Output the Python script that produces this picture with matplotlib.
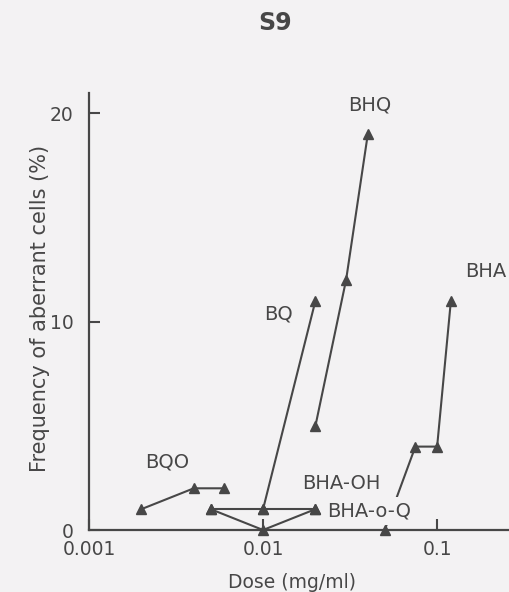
import matplotlib
matplotlib.use("Agg")
import matplotlib.pyplot as plt

# Dose (mg/ml) and frequency of aberrant cells (%) for each compound
bqo_dose = [0.002, 0.004, 0.006]
bqo_freq = [1, 2, 2]

bq_dose = [0.01, 0.02]
bq_freq = [1, 11]

bhq_dose = [0.02, 0.03, 0.04]
bhq_freq = [5, 12, 19]

bha_oh_dose = [0.005, 0.01, 0.02]
bha_oh_freq = [1, 1, 1]

bha_oq_dose = [0.005, 0.01, 0.02]
bha_oq_freq = [1, 0, 1]

bha_dose = [0.05, 0.075, 0.1, 0.12]
bha_freq = [0, 4, 4, 11]

x_ticks = [0.001, 0.01, 0.1]
x_tick_labels = ["0.001", "0.01", "0.1"]
y_ticks = [0, 10, 20]

bg = "#f3f2f3"
ink = "#474747"

fig = plt.figure(figsize=(5.1, 5.92), dpi=100, facecolor=bg)
ax = fig.add_axes([89 / 510, 62 / 592, 451 / 510, 437 / 592])
ax.set_facecolor(bg)

style = dict(color=ink, lw=1.5, marker="^", markersize=7, clip_on=False, zorder=3)
for d, f in [(bqo_dose, bqo_freq), (bq_dose, bq_freq), (bhq_dose, bhq_freq),
             (bha_oh_dose, bha_oh_freq), (bha_oq_dose, bha_oq_freq),
             (bha_dose, bha_freq)]:
    ax.plot(d, f, **style)

ax.set_xscale("log")
ax.set_xlim(0.001, 0.39)
ax.set_ylim(0, 20.96)
ax.set_xticks(x_ticks)
ax.set_xticklabels(x_tick_labels)
ax.set_yticks(y_ticks)
ax.minorticks_off()

for s in ["top", "right"]:
    ax.spines[s].set_visible(False)
for s in ["left", "bottom"]:
    ax.spines[s].set_color(ink)
    ax.spines[s].set_linewidth(1.6)

ax.tick_params(axis="both", direction="in", length=8, width=1.5, color=ink,
               labelcolor=ink, labelsize=13.5)
ax.tick_params(axis="y", pad=11)
ax.tick_params(axis="x", pad=7)

lab = dict(color=ink, fontsize=14, va="center")
ax.text(0.0412, 20.4, "BHQ", ha="center", **lab)
ax.text(0.0122, 10.36, "BQ", ha="center", **lab)
ax.text(0.145, 12.4, "BHA", ha="left", **lab)
ax.text(0.0028, 3.26, "BQO", ha="center", **lab)
ax.text(0.01675, 2.25, "BHA-OH", ha="left", **lab)
ax.text(0.0233, 0.91, "BHA-o-Q", ha="left", zorder=5,
        bbox=dict(facecolor=bg, edgecolor="none", pad=3), **lab)

fig.text(275 / 510, 1 - 23 / 592, "S9", ha="center", va="center",
         fontsize=17, fontweight="bold", color=ink)
fig.text(292 / 510, 1 - 583 / 592, "Dose (mg/ml)", ha="center", va="center",
         fontsize=13.5, color=ink)
fig.text(40 / 510, 1 - 308 / 592, "Frequency of aberrant cells (%)",
         ha="center", va="center", rotation=90, fontsize=15, color=ink)

fig.savefig("out.png", dpi=100, facecolor=bg)
